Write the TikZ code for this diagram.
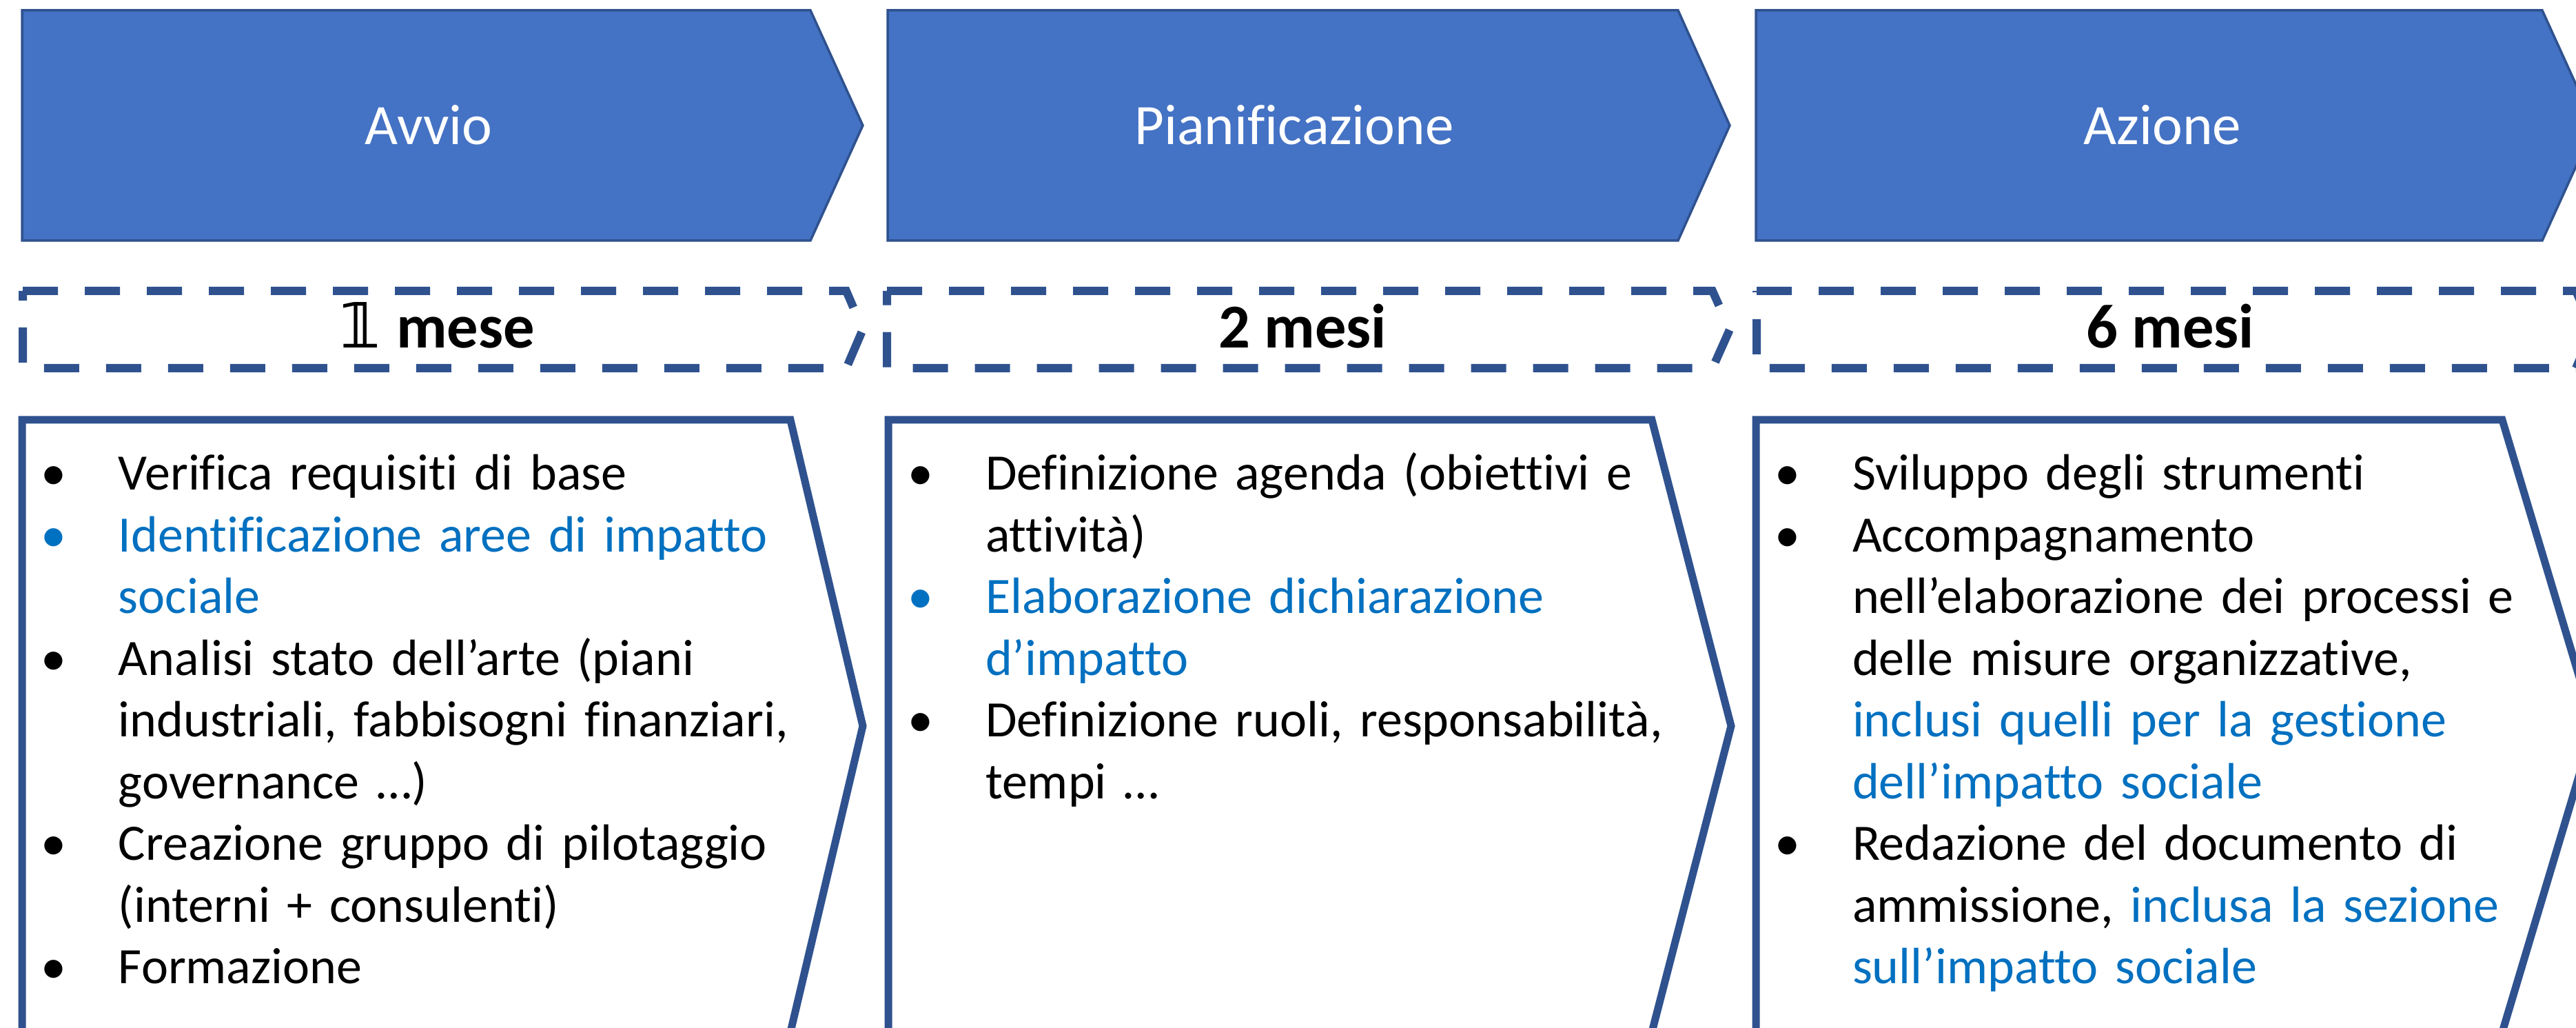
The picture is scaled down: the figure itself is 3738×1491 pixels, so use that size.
\documentclass[tikz,border=0pt]{standalone}
\usepackage{fontspec}
\setmainfont{Carlito}[Ligatures={NoCommon}]
\newfontfamily\djv{DejaVu Sans}
\definecolor{hdrfill}{HTML}{4472C4}
\definecolor{edge}{HTML}{2F528F}
\definecolor{tblue}{HTML}{0070C0}
\newcommand\bitem[2][black]{\par\noindent\hangindent=27.8pt\hangafter=1\rule{0pt}{14pt}\makebox[27.8pt][l]{\hspace{9pt}\makebox[0pt]{\textcolor{#1}{•}}}\textcolor{#1}{#2}}
\tikzset{
  hdr/.style={draw=edge, fill=hdrfill, line width=0.7pt, line join=miter},
  dsh/.style={draw=edge, line width=2.4pt, dash pattern=on 10.2pt off 7.8pt},
  bx/.style={draw=edge, line width=2.2pt, line join=miter},
  hdrtext/.style={text=white, font=\fontsize{16.6pt}{20pt}\selectfont, anchor=base, inner sep=0pt},
  durtext/.style={text=black, font=\fontsize{18.1pt}{22pt}\selectfont\bfseries, anchor=base, inner sep=0pt},
  bodytext/.style={text=black, font=\fontsize{14.8pt}{17.9pt}\selectfont, anchor=north west, inner sep=0pt, text width=240pt, align=left}
}
\begin{document}
\begin{tikzpicture}[x=0.2pt, y=-0.2pt]
\useasboundingbox (0,0) rectangle (3738,1491);
\clip (0,0) rectangle (3738,1491);
\fill[white] (0,0) rectangle (3738,1491);
% headers
\draw[hdr] (32,15) -- (1176,15) -- (1252,182) -- (1176,349) -- (32,349) -- cycle;
\draw[hdr] (1288,15) -- (2435,15) -- (2510,182) -- (2435,349) -- (1288,349) -- cycle;
\draw[hdr] (2548,15) -- (3689,15) -- (3765,182) -- (3689,349) -- (2548,349) -- cycle;
\node[hdrtext] (h1) at (622,210) {Avvio};
\node[hdrtext] (h2) at (1878,210) {Pianificazione};
\node[hdrtext] (h3) at (3138,210) {Azione};
% durations
\draw[dsh] (33,422) -- (1228,422) -- (1252,478) -- (1228,534) -- (33,534) -- cycle;
\draw[dsh] (1287,422) -- (2485,422) -- (2510,478) -- (2485,534) -- (1287,534) -- cycle;
\draw[dsh] (2549,422) -- (3738,422) -- (3762,478) -- (3738,534) -- (2549,534) -- cycle;
\node[durtext] (d1) at (634,505) {{\djv\bfseries 𝟙} mese};
\node[durtext] (d2) at (1890,505) {2 mesi};
\node[durtext] (d3) at (3149,505) {6 mesi};
% text boxes
\draw[bx] (32,609) -- (1147,609) -- (1252,1053) -- (1147,1497) -- (32,1497) -- cycle;
\draw[bx] (1289,609) -- (2397,609) -- (2512,1053) -- (2397,1497) -- (1289,1497) -- cycle;
\draw[bx] (2548,609) -- (3631,609) -- (3764,1053) -- (3631,1497) -- (2548,1497) -- cycle;
\node[bodytext] (b1) at (32,620) {\lineskiplimit=-100pt
  \bitem{Verifica requisiti di base}
  \bitem[tblue]{Identificazione aree di impatto\newline sociale}
  \bitem{Analisi stato dell’arte (piani\newline industriali, fabbisogni finanziari,\newline governance …)}
  \bitem{Creazione gruppo di pilotaggio\newline (interni + consulenti)}
  \bitem{Formazione}\par};
\node[bodytext] (b2) at (1290,620) {\lineskiplimit=-100pt
  \bitem{Definizione agenda (obiettivi e\newline attività)}
  \bitem[tblue]{Elaborazione dichiarazione\newline d’impatto}
  \bitem{Definizione ruoli, responsabilità,\newline tempi …}\par};
\node[bodytext] (b3) at (2548,620) {\lineskiplimit=-100pt
  \bitem{Sviluppo degli strumenti}
  \bitem{Accompagnamento\newline nell’elaborazione dei processi e\newline delle misure organizzative,\newline {\color{tblue}inclusi quelli per la gestione\newline dell’impatto sociale}}
  \bitem{Redazione del documento di\newline ammissione, {\color{tblue}inclusa la sezione\newline sull’impatto sociale}}\par};
\end{tikzpicture}
\end{document}
